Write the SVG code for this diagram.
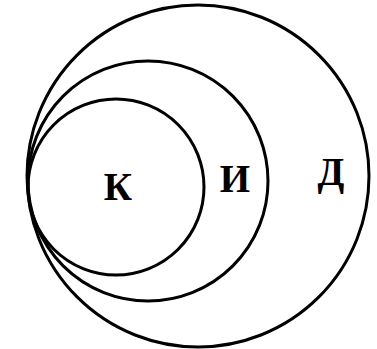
<svg xmlns="http://www.w3.org/2000/svg" width="377" height="349" viewBox="0 0 377 349">
<style>
.c{fill:none;stroke:#000;stroke-width:3}
.t{font-family:"Liberation Serif","Times New Roman",serif;font-weight:bold;font-size:39px;fill:#000;text-anchor:middle}
</style>
<rect width="377" height="349" fill="#fff"/>
<g id="D"><circle class="c" cx="198" cy="176" r="171"/><text class="t" x="331" y="185">Д</text></g>
<g id="I"><circle class="c" cx="148" cy="181" r="120"/><text class="t" x="235" y="192">И</text></g>
<g id="K"><circle class="c" cx="116" cy="187" r="88"/><text class="t" x="118" y="200">К</text></g>
<g id="connectors"/>
</svg>
